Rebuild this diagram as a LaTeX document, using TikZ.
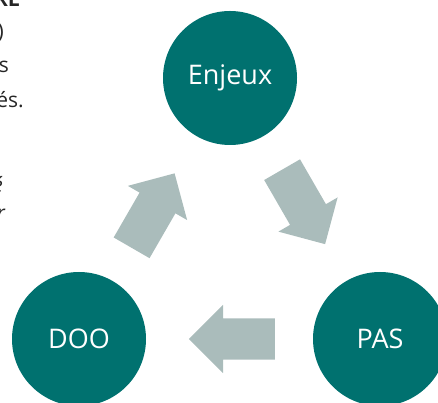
\documentclass[tikz,border=0pt]{standalone}
\usepackage{fontspec}
\setmainfont{Open Sans}
\usetikzlibrary{shapes.arrows}
\definecolor{teal}{RGB}{0,113,111}
\definecolor{sage}{RGB}{170,188,187}
\definecolor{ink}{RGB}{38,38,38}
\begin{document}
\begin{tikzpicture}[x=1pt,y=1pt,
	stage/.style={circle,fill=teal,text=white,minimum size=134pt,inner sep=0pt,font=\fontsize{27}{30}\selectfont},
	flow/.style={single arrow,fill=sage,inner sep=0pt,minimum height=86pt,single arrow head extend=13.5pt,single arrow tip angle=90,anchor=tail},
	cut/.style={anchor=base east,inner sep=0pt,text=ink,font=\fontsize{21}{24}\selectfont}]
	\clip (0,0) rectangle (438,403);
	% bits of the text box on the left
	\node[cut,font=\fontsize{21}{24}\selectfont\bfseries] (t1) at (20,396){RL};
	\node[cut] (t2) at (4,364){)};
	\node[cut] (t3) at (9,330){s};
	\node[cut] (t4) at (24,295){és.};
	\node[cut,font=\fontsize{21}{24}\selectfont\itshape] (t5) at (3,210){é};
	\node[cut,font=\fontsize{21}{24}\selectfont\itshape] (t6) at (5,182){r};
	% the cycle
	\node[stage] (enj) at (230,325){Enjeux};
	\node[stage] (doo) at (79,64){DOO};
	\node[stage] (pas) at (380,64){PAS};
	\node[flow,rotate=60] (up) at (131.5,155){\rule{0pt}{41pt}};
	\node[flow,rotate=-60] (down) at (282,233.5){\rule{0pt}{41pt}};
	\node[flow,rotate=180] (back) at (275,64){\rule{0pt}{41pt}};
\end{tikzpicture}
\end{document}
